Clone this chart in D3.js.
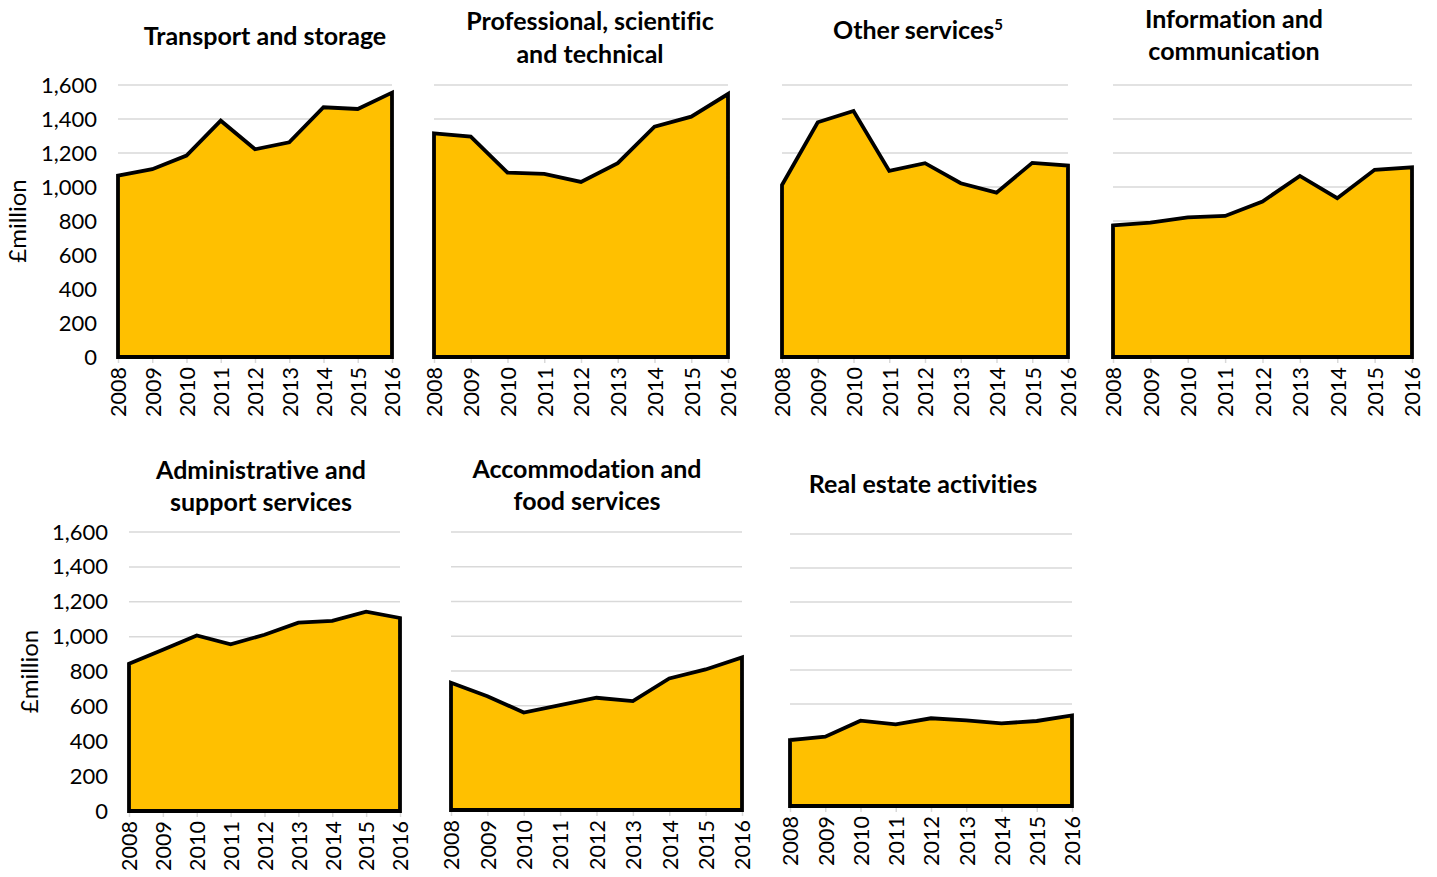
<!DOCTYPE html>
<html><head><meta charset="utf-8">
<script src="https://cdn.jsdelivr.net/npm/d3@7"></script>
<style>
body{margin:0;background:#fff;}
svg{display:block;font-family:Lato, "Open Sans", sans-serif;font-variant-ligatures:none;}
</style></head>
<body><svg id="c" width="1437" height="877"></svg>
<script>
const years = [2008, 2009, 2010, 2011, 2012, 2013, 2014, 2015, 2016];
const yTicks = [0, 200, 400, 600, 800, 1000, 1200, 1400, 1600];
const transport = [1067, 1105, 1185, 1390, 1222, 1263, 1469, 1459, 1555];
const professional = [1316, 1296, 1085, 1077, 1030, 1140, 1355, 1414, 1547];
const otherServices = [1012, 1381, 1447, 1095, 1140, 1022, 967, 1142, 1126];
const information = [774, 791, 821, 830, 915, 1065, 934, 1101, 1116];
const administrative = [845, 925, 1007, 956, 1011, 1080, 1090, 1143, 1107];
const accommodation = [732, 655, 561, 604, 646, 627, 757, 809, 878];
const realEstate = [388, 408, 502, 480, 516, 504, 486, 500, 533];
const titleLines = [
  ["Transport and storage"],
  ["Professional, scientific", "and technical"],
  ["Other services"],
  ["Information and", "communication"],
  ["Administrative and", "support services"],
  ["Accommodation and", "food services"],
  ["Real estate activities"]
];
const yLabel = "£million";

// layout (positions only)
const panels = [
  {v: transport,      x0:118, x1:392,  y0:85,  y1:357, tx:265, ty:[36],      axis:true,  lx:18},
  {v: professional,   x0:434, x1:728,  y0:85,  y1:357, tx:590, ty:[21,54]},
  {v: otherServices,  x0:782, x1:1068, y0:85,  y1:357, tx:918, ty:[30], sup:"5"},
  {v: information,    x0:1113,x1:1412, y0:85,  y1:357, tx:1234,ty:[19,51]},
  {v: administrative, x0:129, x1:400,  y0:532, y1:811, tx:261, ty:[470,502], axis:true, lx:30},
  {v: accommodation,  x0:451, x1:742,  y0:532, y1:810, tx:587, ty:[469,501]},
  {v: realEstate,     x0:790, x1:1072, y0:534, y1:806, tx:923, ty:[484]}
];

const svg = d3.select("#c");
panels.forEach((p, i) => {
  const x = d3.scalePoint().domain(years).range([p.x0, p.x1]);
  const y = d3.scaleLinear().domain([0, 1600]).range([p.y1, p.y0]);
  const g = svg.append("g");

  // gridlines
  g.selectAll("line.grid").data(yTicks.filter(t => t > 0)).join("line")
    .attr("x1", p.x0).attr("x2", p.x1)
    .attr("y1", d => y(d)).attr("y2", d => y(d))
    .attr("stroke", "#d9d9d9").attr("stroke-width", 1.5);

  // x axis
  const xa = g.append("g").attr("transform", `translate(0,${p.y1})`)
    .call(d3.axisBottom(x).tickSize(6).tickSizeOuter(0));
  xa.select(".domain").attr("stroke", "#d9d9d9").attr("stroke-width", 1.5);
  xa.selectAll(".tick line").attr("stroke", "#d9d9d9").attr("stroke-width", 1.5);
  xa.selectAll(".tick text")
    .attr("transform", "rotate(-90)")
    .attr("x", -10).attr("y", 0).attr("dy", "0.36em")
    .attr("text-anchor", "end")
    .attr("font-size", 21.5).attr("font-family", "Lato").attr("fill", "#000");

  // area
  const area = d3.area().x((d, j) => x(years[j])).y0(y(0)).y1(d => y(d));
  g.append("path").datum(p.v).attr("d", area)
    .attr("fill", "#ffc000").attr("stroke", "#000").attr("stroke-width", 3.8)
    .attr("stroke-linejoin", "miter");

  // y axis labels
  if (p.axis) {
    const ya = g.append("g").attr("transform", `translate(${p.x0},0)`)
      .call(d3.axisLeft(y).tickValues(yTicks).tickSize(0).tickPadding(21).tickFormat(d3.format(",")));
    ya.select(".domain").remove();
    ya.selectAll(".tick text").attr("font-size", 22).attr("font-family", "Lato").attr("fill", "#000");
    g.append("text")
      .attr("transform", `translate(${p.lx},${(p.y0 + p.y1) / 2}) rotate(-90)`)
      .attr("text-anchor", "middle").attr("dy", "0.35em")
      .attr("font-size", 24).attr("font-family", "Lato").text(yLabel);
  }

  // title
  titleLines[i].forEach((ln, k) => {
    const t = g.append("text").attr("x", p.tx).attr("y", p.ty[k]).attr("dy", "0.35em")
      .attr("text-anchor", "middle").attr("font-weight", "bold")
      .attr("font-size", 25).attr("font-family", "Lato").text(ln);
    if (p.sup) {
      t.append("tspan").attr("font-size", 15).attr("dy", "-0.6em").text(p.sup);
    }
  });
});
</script></body></html>
